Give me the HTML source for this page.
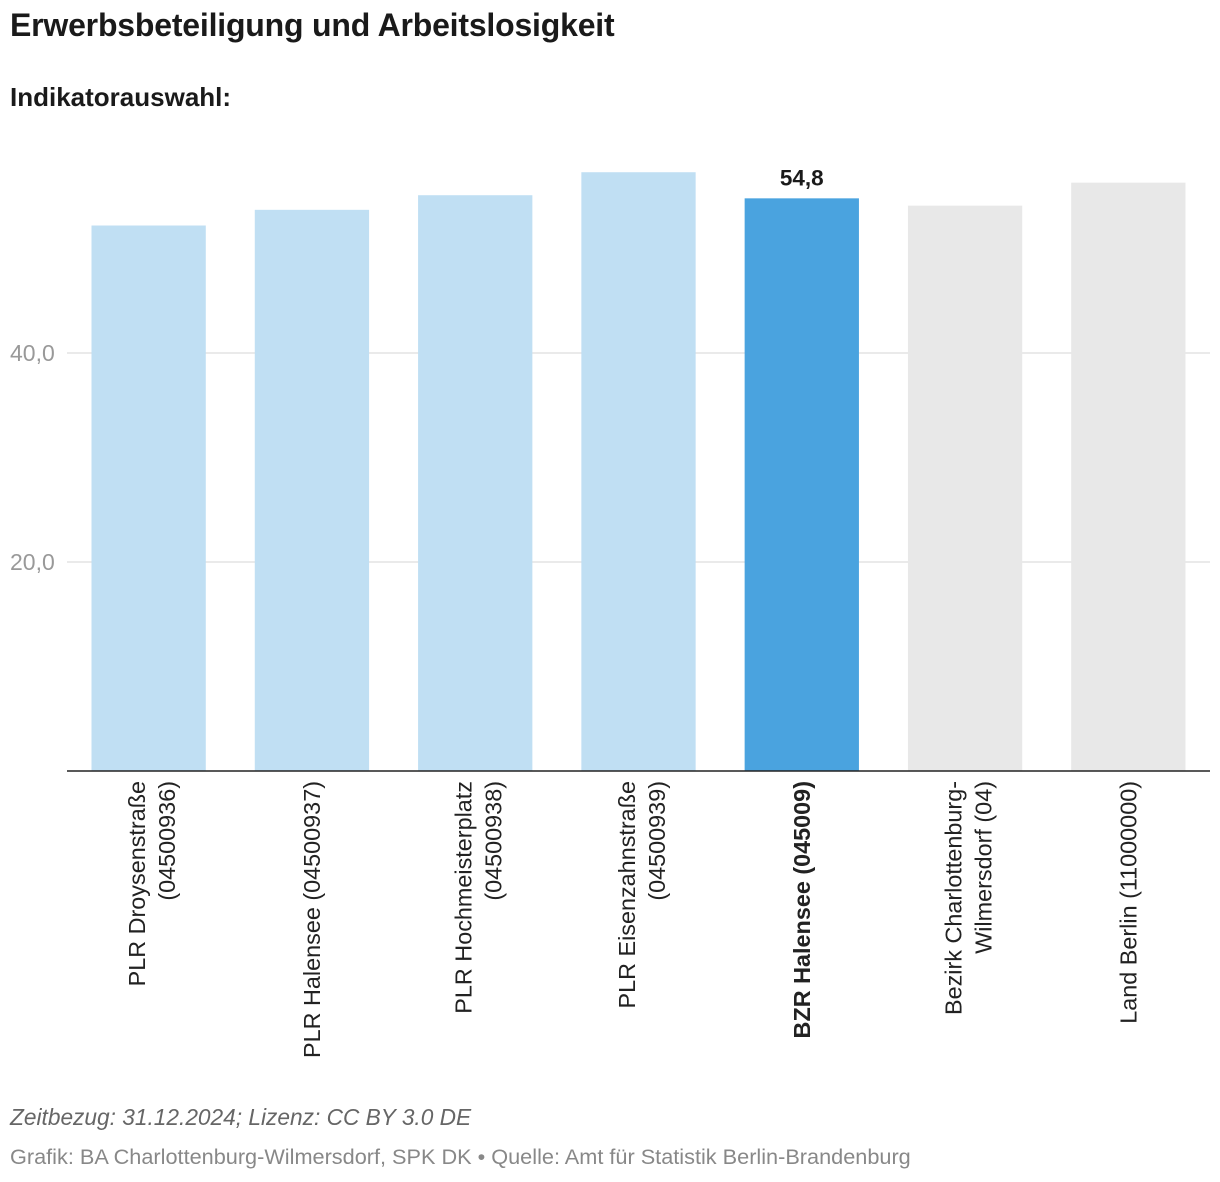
<!DOCTYPE html>
<html><head><meta charset="utf-8"><style>
body{margin:0;background:#fff;font-family:"Liberation Sans",Arial,sans-serif;}
#wrap{position:relative;width:1220px;height:1182px;overflow:hidden;}
.t{position:absolute;left:10px;margin:0;white-space:nowrap;}
</style></head><body>
<div id="wrap">
<h1 class="t" style="top:7px;font-size:32px;font-weight:bold;color:#1a1a1a;letter-spacing:-0.2px">Erwerbsbeteiligung und Arbeitslosigkeit</h1>
<h2 class="t" style="top:82px;font-size:26px;font-weight:bold;color:#1a1a1a">Indikatorauswahl:</h2>
<svg id="chart" width="1220" height="1182" style="position:absolute;left:0;top:0"></svg>
<div class="t" style="top:1104px;font-size:22.7px;font-style:italic;color:#666">Zeitbezug: 31.12.2024; Lizenz: CC BY 3.0 DE</div>
<div class="t" style="top:1144px;font-size:21.7px;color:#888">Grafik: BA Charlottenburg-Wilmersdorf, SPK DK • Quelle: Amt für Statistik Berlin-Brandenburg</div>
</div>
<script>
const categories=[["PLR Droysenstraße","(04500936)"],["PLR Halensee (04500937)"],["PLR Hochmeisterplatz","(04500938)"],["PLR Eisenzahnstraße","(04500939)"],["BZR Halensee (045009)"],["Bezirk Charlottenburg-","Wilmersdorf (04)"],["Land Berlin (11000000)"]];
const values=[52.2,53.7,55.1,57.3,54.8,54.1,56.3];
const kinds=["plr","plr","plr","plr","bzr","other","other"];
const ticks=[20,40];
const tickLabels=["20,0","40,0"];
const highlightLabel="54,8";
const svg=document.getElementById('chart');const NS="http://www.w3.org/2000/svg";
const x0=67,x1=1210,yBase=771,pxPer=10.45;
const band=(x1-x0)/categories.length;
const y=v=>yBase-v*pxPer;
const xc=i=>x0+band*(i+0.5);
function mk(t,a){const e=document.createElementNS(NS,t);for(const k in a)e.setAttribute(k,a[k]);svg.appendChild(e);return e;}
ticks.forEach((t,i)=>{
 const g=mk('line',{x1:x0,x2:x1,y1:y(t),y2:y(t),stroke:'#e3e3e3','stroke-width':1.5});
 
 
 const l=mk('text',{x:10,y:y(t)+8,'font-size':23,fill:'#999'});l.textContent=tickLabels[i];
 
 
});
const colors={plr:'#c0dff3',bzr:'#4aa3df',other:'#e8e8e8'};
const bw=band*0.7;
values.forEach((v,i)=>{
 const r=mk('rect',{x:xc(i)-bw/2,y:y(v),width:bw,height:yBase-y(v),fill:colors[kinds[i]]});
 
 
 if(kinds[i]==='bzr'){const t=mk('text',{x:xc(i),y:y(v)-13,'font-size':22.5,'font-weight':'bold','text-anchor':'middle',fill:'#1a1a1a'});t.textContent=highlightLabel;
  
  }
 const lines=categories[i];
 lines.forEach((ln,j)=>{
  const off=(lines.length>1?(j-0.5)*30+3.5:0)+8;
  const cx=xc(i)+off;
  const t=mk('text',{x:0,y:0,'font-size':23.4,'text-anchor':'end',fill:'#222','font-weight':kinds[i]==='bzr'?'bold':'normal',transform:`translate(${cx},781) rotate(-90)`});
  t.textContent=ln;
  
  
 });
});
const ax=mk('line',{x1:x0,x2:x1,y1:yBase,y2:yBase,stroke:'#222','stroke-width':1.5});


</script>
</body></html>
